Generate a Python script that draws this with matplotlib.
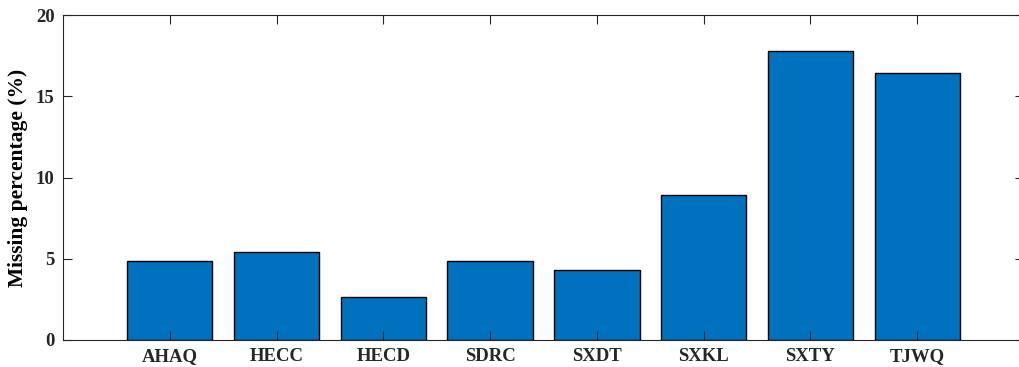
import numpy as np
import matplotlib.pyplot as plt

stations = ['AHAQ', 'HECC', 'HECD', 'SDRC', 'SXDT', 'SXKL', 'SXTY', 'TJWQ']
missing_pct = [4.86, 5.40, 2.66, 4.87, 4.32, 8.96, 17.80, 16.45]
y_ticks = [0, 5, 10, 15, 20]

plt.rcParams['font.family'] = ['Liberation Serif', 'DejaVu Serif']
plt.rcParams['font.weight'] = 'bold'

fig = plt.figure(figsize=(10.19, 3.67), dpi=100)
# axes runs a little past the right edge, as in the saved figure
left, right = 63 / 1019, 1024 / 1019
bottom, top = 27 / 367, 351.7 / 367
ax = fig.add_axes([left, bottom, right - left, top - bottom])

x = np.arange(1, len(stations) + 1)
ax.bar(x, missing_pct, width=0.8, color='#0072BD', edgecolor='black', linewidth=1.0)

ax.set_xlim(0, len(stations) + 1)
ax.set_ylim(0, 20)
ax.set_xticks(x)
ax.set_xticklabels(stations)
ax.set_yticks(y_ticks)
ax.set_ylabel('Missing percentage (%)', fontsize=15.5, fontweight='bold', labelpad=6)

ax.tick_params(direction='in', length=6.5, width=0.8, color='#262626',
               labelsize=13.5, labelcolor='#262626', top=True, right=True, pad=6)
for s in ax.spines.values():
    s.set_color('#262626')
    s.set_linewidth(0.8)

fig.savefig('out.png', dpi=100)
